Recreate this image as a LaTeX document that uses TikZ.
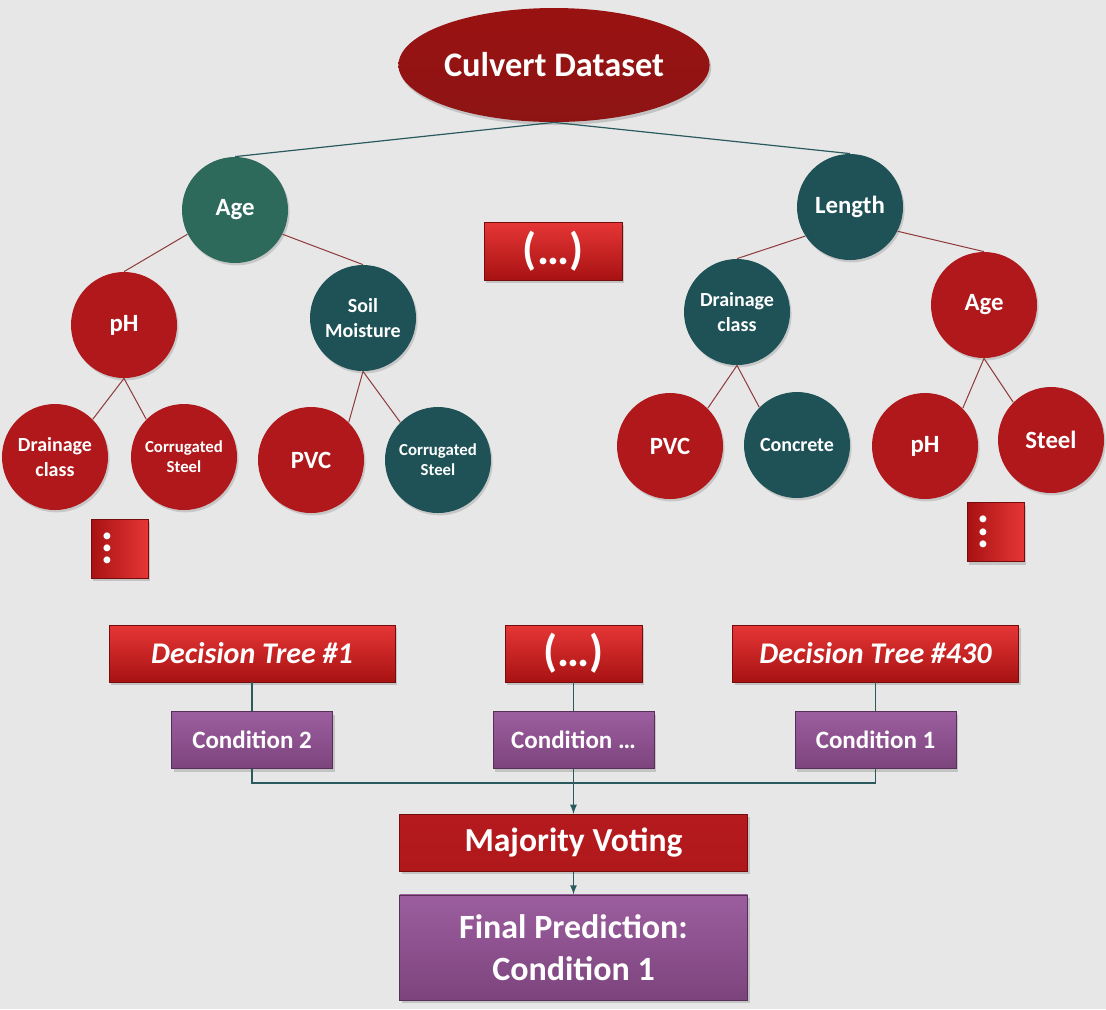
\documentclass[tikz,border=0pt]{standalone}
\usepackage{fontspec}
\setmainfont{Carlito}
\usepackage{tikz}
\usetikzlibrary{shapes,arrows,positioning,calc,shadows}

\definecolor{bg}{HTML}{E7E7E7}
\definecolor{cred}{HTML}{B0181B}
\definecolor{cteal}{HTML}{1F5257}
\definecolor{cgreen}{HTML}{2D6A5C}
\definecolor{cdark}{HTML}{8E1414}
\definecolor{rtop}{HTML}{E63636}
\definecolor{rbot}{HTML}{A81212}
\definecolor{ptop}{HTML}{9C5E9F}
\definecolor{pbot}{HTML}{7C447D}
\definecolor{edgered}{HTML}{8E3A3A}
\definecolor{edgeteal}{HTML}{2A5A5E}
\newcommand{\fsz}[2]{\fontsize{#1}{#2}\selectfont\bfseries}

\begin{document}
\begin{tikzpicture}[x=0.5pt, y=-0.5pt,
    treenode/.style = {circle, minimum size=53pt, inner sep=0pt, align=center, text=white, drop shadow={opacity=0.3, shadow xshift=0.8pt, shadow yshift=-1.2pt}},
    rednode/.style = {treenode, fill=cred},
    tealnode/.style = {treenode, fill=cteal},
    big/.style = {font=\fsz{12.4pt}{15pt}},
    mid/.style = {font=\fsz{10pt}{12.2pt}},
    small/.style = {font=\fsz{8.4pt}{10pt}},
    rootnode/.style = {ellipse, minimum width=134pt, minimum height=57pt, inner sep=0pt, top color=cdark!90!red, bottom color=cdark, text=white, font=\fsz{17.2pt}{20pt}, drop shadow={opacity=0.35, shadow xshift=0.8pt, shadow yshift=-1.5pt}},
    redbox/.style = {rectangle, top color=rtop, bottom color=rbot, draw=rbot!70!black, line width=0.3pt, text=white, inner sep=0pt, drop shadow={opacity=0.35, shadow xshift=1pt, shadow yshift=-1.5pt}},
    dotbox/.style = {rectangle, left color=rbot, right color=rtop, draw=rbot!70!black, line width=0.3pt, text=white, inner sep=0pt, minimum width=28.5pt, minimum height=29.5pt, text width=15.5pt, align=left, font=\fsz{23pt}{23pt}, drop shadow={opacity=0.35, shadow xshift=1pt, shadow yshift=-1.5pt}},
    purplebox/.style = {rectangle, top color=ptop, bottom color=pbot, draw=pbot!70!black, line width=0.3pt, text=white, inner sep=0pt, align=center, drop shadow={opacity=0.35, shadow xshift=1pt, shadow yshift=-1.5pt}},
    treeline/.style = {draw=edgered, line width=0.5pt},
    rootline/.style = {draw=edgeteal, line width=0.6pt},
    flowline/.style = {draw=edgeteal, line width=0.6pt},
    ]

        % Background
        \fill[bg] (0,0) rectangle (1106,1009);
        \useasboundingbox (0,0) rectangle (1106,1009);

        % Tree
        \node[rootnode] (root) at (554,65) {Culvert Dataset};
        \node[treenode, fill=cgreen, big] (age) at (235,210) {Age};
        \node[tealnode, big] (len) at (850,207) {Length};
        \node[redbox, minimum width=69pt, minimum height=29pt, font=\fsz{22.5pt}{24pt}] (skip) at (553,251) {(…)};
        %
        \node[rednode, big] (ph) at (124,325) {pH};
        \node[tealnode, mid] (soil) at (363,318) {Soil\\Moisture};
        \node[tealnode, mid] (drain) at (737,312) {Drainage\\class};
        \node[rednode, big] (ageb) at (984,305) {Age};
        %
        \node[rednode, mid] (drainl) at (55,457) {Drainage\\class};
        \node[rednode, small] (corr) at (184,457) {Corrugated\\Steel};
        \node[rednode, big] (pvc) at (311,460) {PVC};
        \node[tealnode, small] (corrb) at (438,460) {Corrugated\\Steel};
        \node[rednode, big] (pvcb) at (670,446) {PVC};
        \node[tealnode, mid] (conc) at (797,445) {Concrete};
        \node[rednode, big] (phb) at (925,446) {pH};
        \node[rednode, big] (steel) at (1051,440) {Steel};
        %
        \node[dotbox] (morel) at (119.5,548.5) {\rotatebox{90}{...}};
        \node[dotbox] (morer) at (995.5,532) {\rotatebox{90}{...}};

        % Forest output
        \node[redbox, minimum width=143pt, minimum height=28.5pt, font=\fsz{15pt}{18pt}\itshape] (dta) at (252,653.5) {Decision Tree \#1};
        \node[redbox, minimum width=68.5pt, minimum height=28.5pt, font=\fsz{22.5pt}{24pt}] (dtdots) at (573.5,653.5) {(…)};
        \node[redbox, minimum width=143pt, minimum height=28.5pt, font=\fsz{15pt}{18pt}\itshape] (dtb) at (875.5,653.5) {Decision Tree \#430};
        %
        \node[purplebox, minimum width=80.5pt, minimum height=28.5pt, font=\fsz{12.5pt}{15pt}, below=14.5pt of dta] (conda) {Condition 2};
        \node[purplebox, minimum width=80.5pt, minimum height=28.5pt, font=\fsz{12.5pt}{15pt}, below=14.5pt of dtdots] (condm) {Condition …};
        \node[purplebox, minimum width=80.5pt, minimum height=28.5pt, font=\fsz{12.5pt}{15pt}, below=14.5pt of dtb] (condb) {Condition 1};
        %
        \node[redbox, top color=cred!90!rtop, bottom color=cred, minimum width=174pt, minimum height=28.5pt, font=\fsz{16.8pt}{20pt}, below=22.5pt of condm] (vote) {Majority Voting};
        \node[purplebox, minimum width=174pt, minimum height=52.5pt, font=\fsz{17pt}{21pt}, below=11.5pt of vote] (final) {Final Prediction:\\Condition 1};
        \coordinate (merge) at ($(condm.south)+(0,14)$);

        % Draw
        \draw[rootline] (root.south) -- (age.north);
        \draw[rootline] (root.south) -- (len.north);
        \draw[treeline] (age.207) -- (ph.north);
        \draw[treeline] (age.-27) -- (soil.north);
        \draw[treeline] (len.213) -- (drain.north);
        \draw[treeline] (len.-27) -- (ageb.north);
        \draw[treeline] (ph.south) -- (drainl.45);
        \draw[treeline] (ph.south) -- (corr.135);
        \draw[treeline] (soil.south) -- (pvc.45);
        \draw[treeline] (soil.south) -- (corrb.135);
        \draw[treeline] (drain.south) -- (pvcb.45);
        \draw[treeline] (drain.south) -- (conc.135);
        \draw[treeline] (ageb.south) -- (phb.45);
        \draw[treeline] (ageb.south) -- (steel.135);
        %
        \draw[flowline] (dta) -- (conda);
        \draw[flowline] (dtdots) -- (condm);
        \draw[flowline] (dtb) -- (condb);
        \draw[flowline] (conda.south) |- (merge) -| (condb.south);
        \draw[flowline, -latex] (condm.south) -- (vote.north);
        \draw[flowline, -latex] (vote) -- (final);
    \end{tikzpicture}
\end{document}
